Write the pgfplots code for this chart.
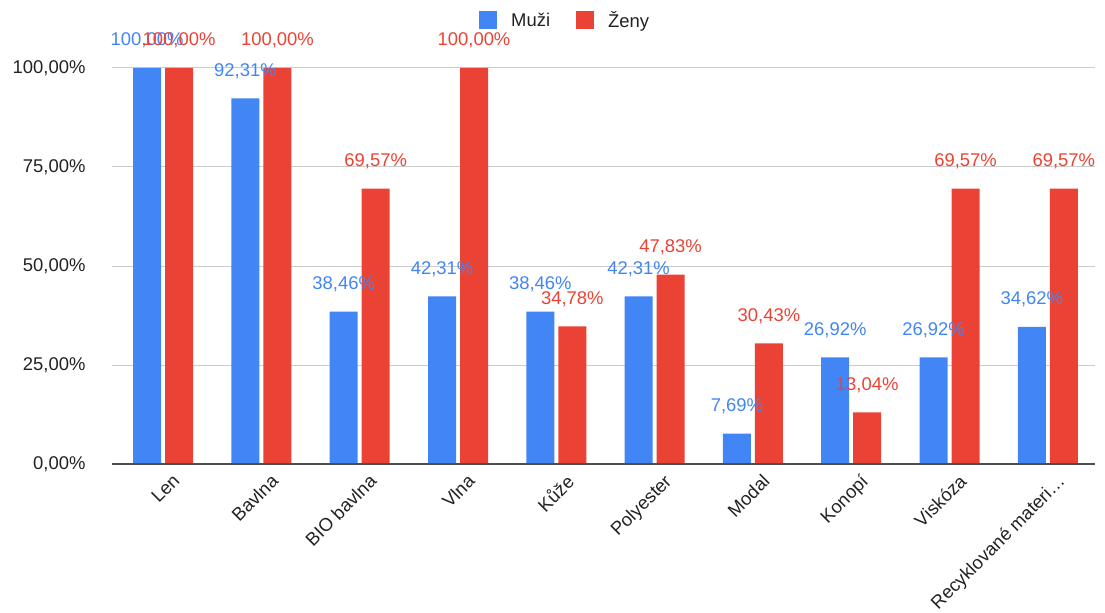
\documentclass[border=0pt]{standalone}
\usepackage{pgfplots}
\pgfplotsset{compat=1.18}
\usepackage{fontspec}
\setmainfont{Liberation Sans}
\definecolor{gblue}{HTML}{4285F4}
\definecolor{gred}{HTML}{EA4335}
\definecolor{ggrid}{HTML}{CCCCCC}
\definecolor{gtext}{HTML}{222222}
\newcommand\f{\fontsize{18.5}{21}\selectfont}
\begin{document}
\begin{tikzpicture}[font=\f]
\path[use as bounding box] (-112bp,-149bp) rectangle (993bp,464bp);
\begin{axis}[
  at={(0,0)}, anchor=south west,
  scale only axis, width=983bp, height=396bp,
  xmin=-0.52, xmax=9.48, ymin=0, ymax=100,
  ybar, bar width=28bp,
  axis lines*=left, axis line style={draw=none},
  xtick=data,
  xticklabels={Len,Bavlna,BIO bavlna,Vlna,Kůže,Polyester,Modal,Konopí,Viskóza,Recyklované materi…},
  x tick label style={rotate=45, anchor=north east, font=\f, text=gtext, xshift=3bp, yshift=-9bp},
  major tick length=0pt,
  ytick={0,25,50,75,100},
  yticklabels={{0,00\%},{25,00\%},{50,00\%},{75,00\%},{100,00\%}},
  y tick label style={font=\f, text=gtext, xshift=-23bp},
  ymajorgrids, grid style={ggrid, line width=1bp},
  clip=false,
  nodes near coords={\pgfmathprintnumber[fixed,fixed zerofill,precision=2,use comma]{\pgfplotspointmeta}\%},
  every node near coord/.append style={anchor=base, yshift=22bp, font=\f},
  /pgf/number format/assume math mode=true,
  legend style={at={(0.461,1.12)}, anchor=center, draw=none, fill=none, legend columns=2,
    /tikz/every odd column/.append style={column sep=12bp},
    /tikz/every even column/.append style={column sep=24bp}, font=\f, text=gtext},
  legend image code/.code={\fill[#1] (0bp,-9bp) rectangle (18bp,9bp);},
]
\addplot[fill=gblue, draw=none, bar shift=-16bp, every node near coord/.append style={text=gblue}] coordinates {
(0,100) (1,92.31) (2,38.46) (3,42.31) (4,38.46) (5,42.31) (6,7.69) (7,26.92) (8,26.92) (9,34.62)};
\addplot[fill=gred, draw=none, bar shift=16bp, every node near coord/.append style={text=gred}] coordinates {
(0,100) (1,100) (2,69.57) (3,100) (4,34.78) (5,47.83) (6,30.43) (7,13.04) (8,69.57) (9,69.57)};
\draw[color=gtext!80, line width=1.5bp] (axis cs:-0.52,0) -- (axis cs:9.48,0);
\legend{Muži,Ženy}
\end{axis}
\end{tikzpicture}
\end{document}
